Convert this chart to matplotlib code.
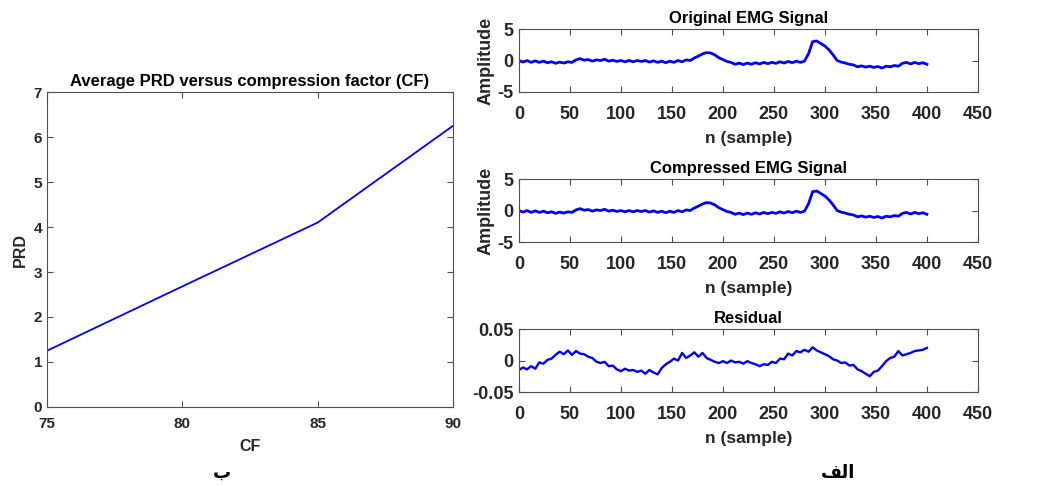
import matplotlib.pyplot as plt

plt.rcParams['font.family'] = ['Liberation Sans', 'DejaVu Sans']
plt.rcParams['font.weight'] = 'bold'

# left panel: PRD vs CF
cf = [75, 80, 85, 90]
prd = [1.25, 2.68, 4.1, 6.25]

# right panels: EMG signals, one value every 4 samples
n = list(range(0, 401, 4))
emg_original = [
    0.0, -0.25, 0.0, -0.3, -0.05, -0.3, -0.1, -0.35, -0.2, -0.45,
    -0.25, -0.4, -0.2, -0.3, 0.1, 0.3, 0.05, 0.15, -0.1, 0.1,
    0.0, 0.2, -0.1, 0.05, -0.15, 0.0, -0.2, 0.0, -0.2, 0.0,
    -0.15, 0.0, -0.25, -0.05, -0.3, -0.1, -0.35, -0.1, -0.3, 0.0,
    -0.2, 0.1, 0.0, 0.4, 0.7, 1.05, 1.25, 1.2, 0.9, 0.45,
    0.15, -0.15, -0.3, -0.6, -0.4, -0.65, -0.4, -0.6, -0.35, -0.55,
    -0.3, -0.5, -0.3, -0.45, -0.2, -0.4, -0.15, -0.35, -0.1, -0.3,
    -0.1, 1.1, 3.0, 3.1, 2.7, 2.3, 1.7, 0.9, 0.0, -0.25,
    -0.4, -0.6, -0.7, -1.0, -0.85, -1.05, -0.9, -1.1, -0.95, -1.2,
    -0.9, -1.0, -0.8, -0.9, -0.45, -0.3, -0.55, -0.3, -0.5, -0.35,
    -0.6]
emg_compressed = list(emg_original)  # looks the same at this scale
residual = [
    -0.015, -0.011, -0.014, -0.009, -0.013, -0.003, -0.005, 0.001, 0.003, 0.009,
    0.014, 0.01, 0.016, 0.009, 0.015, 0.011, 0.01, 0.006, 0.004, -0.002,
    -0.004, -0.002, -0.009, -0.008, -0.014, -0.017, -0.013, -0.016, -0.015, -0.018,
    -0.016, -0.021, -0.015, -0.019, -0.022, -0.012, -0.006, -0.002, 0.003, 0.0,
    0.012, 0.004, 0.008, 0.013, 0.006, 0.012, 0.004, 0.001, -0.002, -0.004,
    -0.001, -0.004, 0.0, -0.003, -0.002, -0.005, -0.001, -0.004, -0.006, -0.009,
    -0.006, -0.007, -0.002, -0.004, 0.003, 0.002, 0.011, 0.008, 0.015, 0.013,
    0.017, 0.014, 0.021, 0.016, 0.013, 0.01, 0.007, 0.002, 0.0, -0.004,
    -0.003, -0.008, -0.007, -0.014, -0.017, -0.021, -0.025, -0.018, -0.016, -0.009,
    -0.001, 0.004, 0.006, 0.015, 0.008, 0.01, 0.012, 0.015, 0.016, 0.017,
    0.02]

frame = '#505050'
txt = '#262626'


def style(ax, fs):
    for s in ax.spines.values():
        s.set_color(frame)
        s.set_linewidth(0.8)
    ax.tick_params(direction='in', top=True, right=True, length=4,
                   color=frame, labelcolor=txt, labelsize=fs, width=0.8)
    for lab in ax.get_xticklabels() + ax.get_yticklabels():
        lab.set_fontweight('bold')


fig = plt.figure(figsize=(10.59, 4.86), dpi=100)

# left
ax = fig.add_axes([0.0444, 0.1626, 0.3834, 0.648])
ax.plot(cf, prd, color='blue', lw=1.3)
ax.set_xlim(75, 90)
ax.set_ylim(0, 7)
ax.set_xticks([75, 80, 85, 90])
ax.set_yticks(range(0, 8))
style(ax, 11)
ax.tick_params(axis='x', pad=7)
ax.set_title('Average PRD versus compression factor (CF)', fontsize=12,
             fontweight='bold', pad=4)
ax.set_xlabel('CF', fontsize=11.5, fontweight='bold', color=txt, labelpad=6)
ax.set_ylabel('PRD', fontsize=11.5, fontweight='bold', color=txt)

# right
panels = [
    (0.8107, emg_original, 'Original EMG Signal', (-5, 5), [-5, 0, 5], ['-5', '0', '5'], 'Amplitude'),
    (0.502, emg_compressed, 'Compressed EMG Signal', (-5, 5), [-5, 0, 5], ['-5', '0', '5'], 'Amplitude'),
    (0.1934, residual, 'Residual', (-0.05, 0.05), [-0.05, 0, 0.05], ['-0.05', '0', '0.05'], None),
]
for bottom, y, title, ylim, yt, ytl, ylab in panels:
    ax = fig.add_axes([0.490, bottom, 0.4334, 0.1296])
    ax.plot(n, y, color='blue', lw=2.0 if ylab else 1.7)
    ax.set_xlim(0, 450)
    ax.set_ylim(*ylim)
    ax.set_xticks(range(0, 451, 50))
    ax.set_yticks(yt)
    ax.set_yticklabels(ytl)
    style(ax, 13)
    ax.tick_params(axis='x', pad=10)
    ax.tick_params(axis='y', pad=4)
    ax.set_title(title, fontsize=12, fontweight='bold', pad=4)
    ax.set_xlabel('n (sample)', fontsize=12.5, fontweight='bold', color=txt, labelpad=5.5)
    if ylab:
        ax.set_ylabel(ylab, fontsize=13, fontweight='bold', color=txt, labelpad=2)

# panel letters (Arabic, visual order)
fig.text(222 / 1059, 1 - 473 / 486, '\u0628', fontsize=13, fontweight='bold',
         ha='center', va='center', family=['DejaVu Sans'])
fig.text(838 / 1059, 1 - 473 / 486, '\ufed2\ufedf\ufe8d', fontsize=13, fontweight='bold',
         ha='center', va='center', family=['DejaVu Sans'])

fig.savefig('out.png', dpi=100)
